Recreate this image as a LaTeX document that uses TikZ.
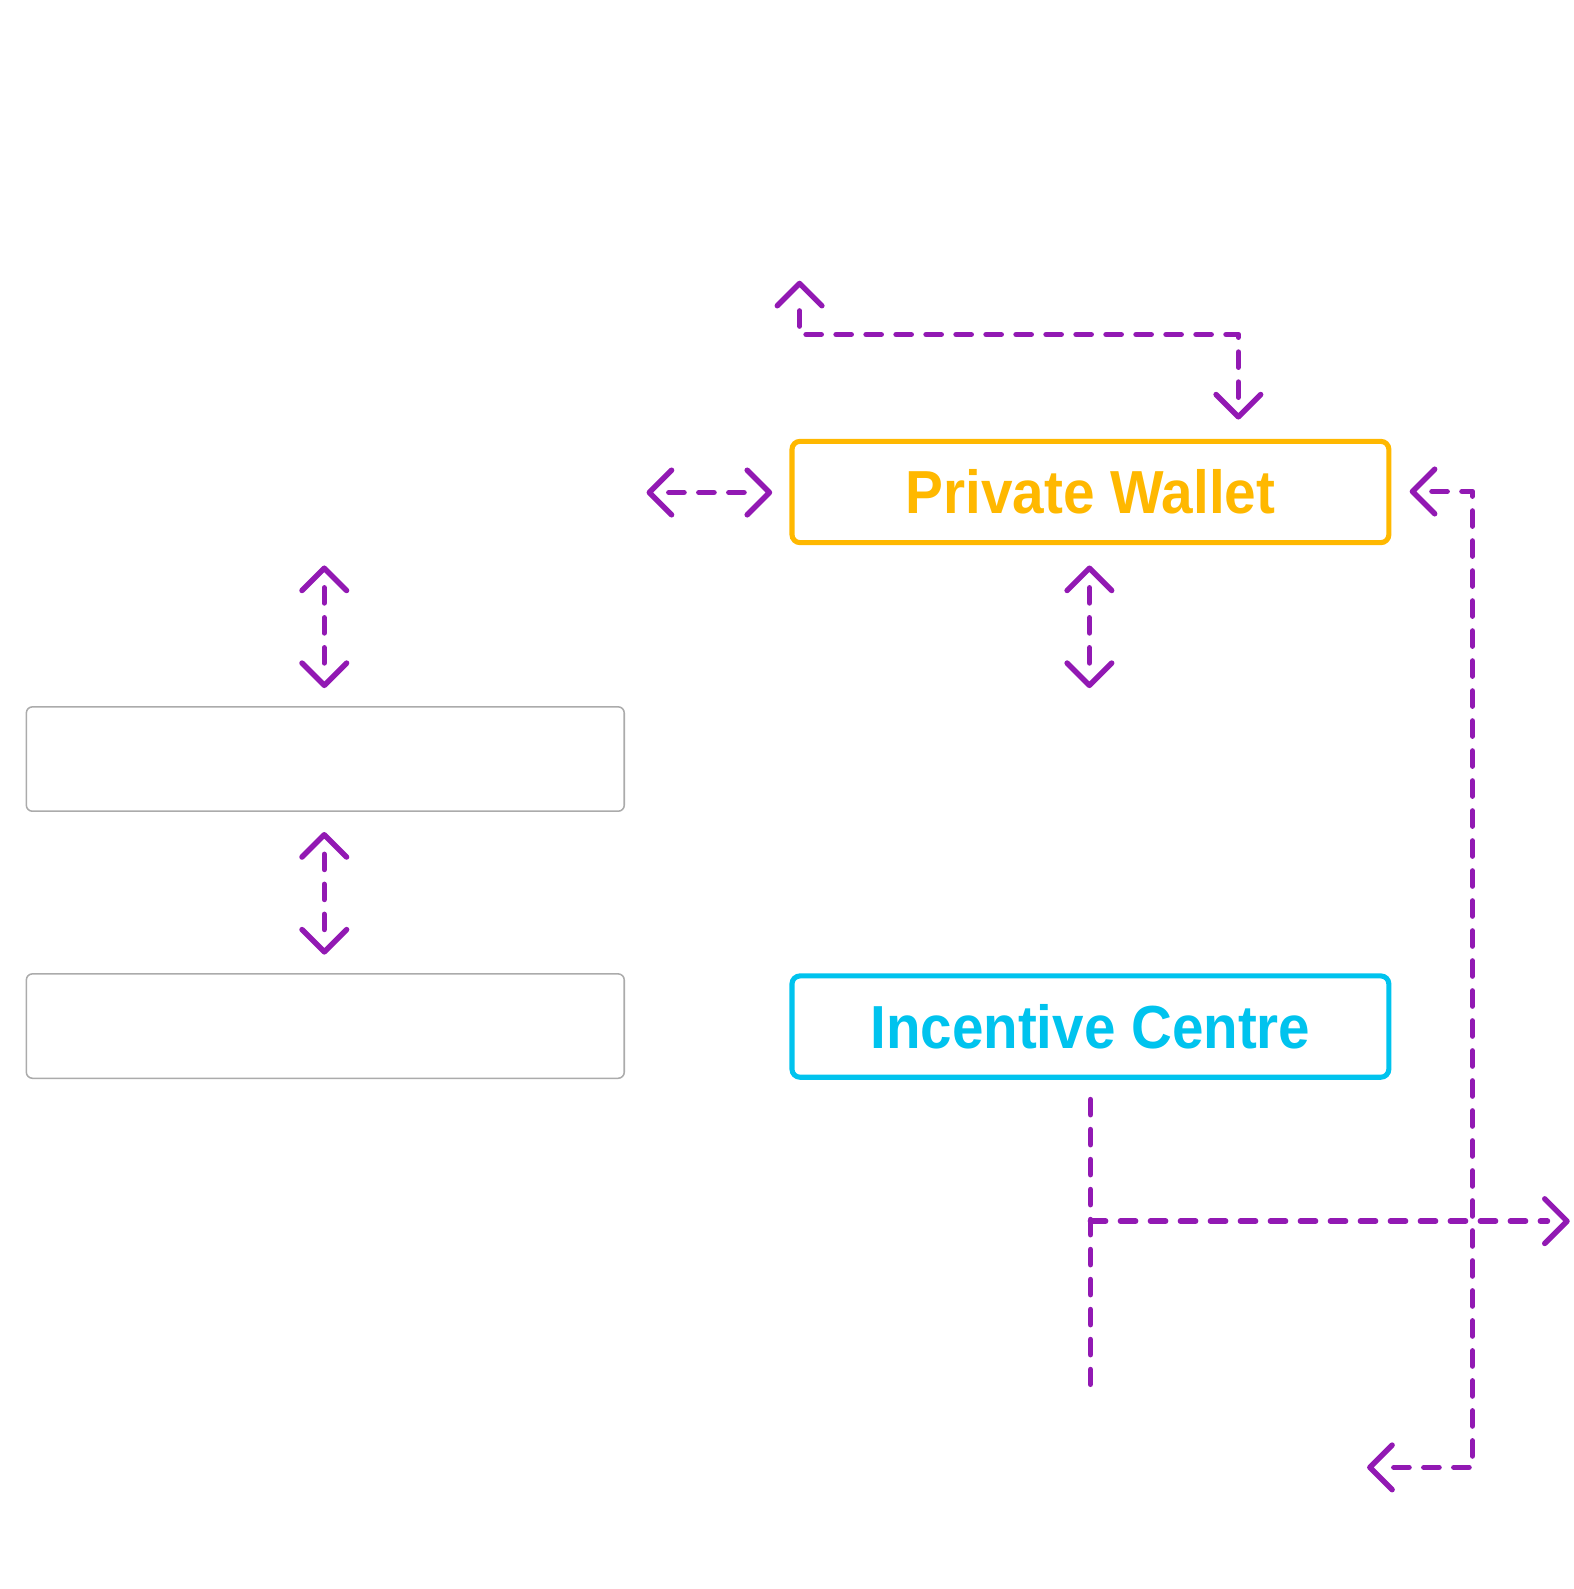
\documentclass[tikz,border=0pt]{standalone}
\usepackage{fontspec}
\setmainfont{Liberation Sans}
\usetikzlibrary{arrows.meta}
\definecolor{amber}{HTML}{FFB800}
\definecolor{cyanb}{HTML}{00C3EE}
\definecolor{purp}{HTML}{9219B3}
\definecolor{greyb}{HTML}{ABABAB}
\tikzset{
  bigbox/.style={draw, line width=2.5pt, rounded corners=4pt, minimum width=294.5pt, minimum height=50pt, inner sep=0pt, font=\fontsize{30}{30}\selectfont\bfseries},
  greybox/.style={draw=greyb, line width=0.75pt, rounded corners=3pt, minimum width=295pt, minimum height=51.5pt, inner sep=0pt},
  conn/.style={draw=purp, line width=2.7pt, line cap=round, line join=round, dash pattern=on 7.5pt off 7.3pt},
  both/.style={conn, shorten <=11pt, shorten >=11pt},
  heads/.style={draw=purp, line width=2.7pt, line cap=butt, dash pattern=on 0pt off 5000pt},
  tip/.tip={Straight Barb[length=11pt, width=22pt, round, line width=2.7pt]}
}
\begin{document}
\begin{tikzpicture}[x=0.5pt, y=-0.5pt]
\useasboundingbox (0,0) rectangle (1553,1568);
% boxes
\node[bigbox, draw=amber, text=amber] (pw) at (1076,485.5) {\raisebox{-1.5pt}{\resizebox{182.5pt}{\height}{Private Wallet}}};
\node[bigbox, draw=cyanb, text=cyanb] (ic) at (1076,1013) {\raisebox{-1.5pt}{\resizebox{217pt}{\height}{Incentive Centre}}};
\node[greybox] (g1) at (321,749) {};
\node[greybox] (g2) at (321,1012.5) {};
% coordinates
\coordinate (t1a) at (1222,414);
\coordinate (c1a) at (1222,330);
\coordinate (c1b) at (789,330);
\coordinate (t1b) at (789,277);
\coordinate (t2a) at (638,486);
\coordinate (t2b) at (762,486);
\coordinate (t3a) at (1391,485);
\coordinate (c3a) at (1453,485);
\coordinate (c3b) at (1453,1448);
\coordinate (t3b) at (1349,1448);
\coordinate (t4a) at (1075,558);
\coordinate (t4b) at (1075,679);
\coordinate (t5a) at (320,558);
\coordinate (t5b) at (320,679);
\coordinate (t6a) at (320,821);
\coordinate (t6b) at (320,942);
\coordinate (v7a) at (1076,1085);
\coordinate (v7b) at (1076,1366);
\coordinate (h7a) at (1076,1205);
\coordinate (t7b) at (1549,1205);
% connector lines
\draw[both] (t1a) -- (c1a) -- (c1b) -- (t1b);
\draw[both] (t2a) -- (t2b);
\draw[both] (t3a) -- (c3a) -- (c3b) -- (t3b);
\draw[both] (t4a) -- (t4b);
\draw[both] (t5a) -- (t5b);
\draw[both] (t6a) -- (t6b);
\draw[conn] (v7a) -- (v7b);
\draw[conn, shorten >=11pt] (h7a) -- (t7b);
% arrow heads
\draw[heads, tip-tip] (t1a) -- (c1a) -- (c1b) -- (t1b);
\draw[heads, tip-tip] (t2a) -- (t2b);
\draw[heads, tip-tip] (t3a) -- (c3a) -- (c3b) -- (t3b);
\draw[heads, tip-tip] (t4a) -- (t4b);
\draw[heads, tip-tip] (t5a) -- (t5b);
\draw[heads, tip-tip] (t6a) -- (t6b);
\draw[heads, -tip] (h7a) -- (t7b);
\end{tikzpicture}
\end{document}
